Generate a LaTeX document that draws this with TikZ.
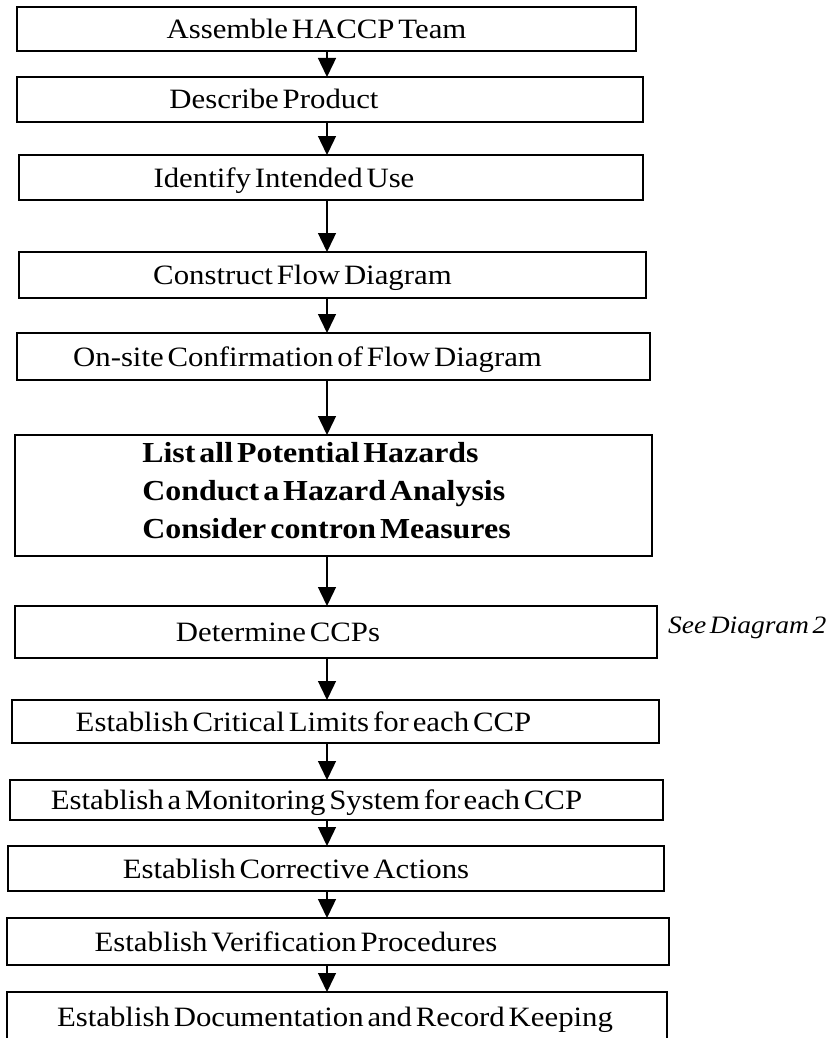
\documentclass[tikz,border=0pt]{standalone}
\usepackage{fontspec}
\setmainfont{Liberation Serif}[FakeStretch=1.1,WordSpace=0.5]
\usetikzlibrary{arrows.meta,positioning}

\begin{document}
\begin{tikzpicture}[
    x=1pt, y=-1pt,
    font=\fontsize{28}{33}\selectfont,
    box/.style={draw, line width=2.4pt, minimum width=#1, minimum height=45pt, inner sep=0pt, outer sep=0pt},
    stepbox/.style={box=#1, text height=20pt, text depth=1pt},
    textleft/.style={execute at end node={\hspace{#1}\hspace{#1}}},
    arr/.style={-{Triangle[length=19pt, width=18pt]}, line width=1.4pt},
    note/.style={font=\itshape\fontsize{25}{29}\selectfont, inner sep=0pt}
  ]
  \useasboundingbox (0,0) rectangle (828,1038);
  \coordinate (axis) at (327,0);
  \node[stepbox=619pt, minimum height=44pt, textleft=10pt] (team) at (326.5,29) {Assemble HACCP Team};
  \node[stepbox=626pt, below=26pt of team, xshift=3.5pt, textleft=56pt] (product) {Describe Product};
  \node[stepbox=624pt, below=33pt of product, xshift=1pt, textleft=47pt] (use) {Identify Intended Use};
  \node[stepbox=627pt, minimum height=46pt, below=52pt of use, xshift=1.5pt, textleft=30pt] (flow) {Construct Flow Diagram};
  \node[stepbox=633pt, minimum height=47pt, below=35pt of flow, xshift=1pt, textleft=26pt] (onsite) {On-site Confirmation of Flow Diagram};
  \node[box=637pt, minimum height=121pt, below=55pt of onsite, align=left, text depth=10pt, textleft=7pt, font=\bfseries\fontsize{29}{38}\selectfont] (hazards) {List all Potential Hazards\\Conduct a Hazard Analysis\\Consider contron Measures};
  \node[stepbox=642pt, minimum height=52pt, below=50pt of hazards, xshift=2.5pt, textleft=58pt] (ccp) {Determine CCPs};
  \node[note, right=11pt of ccp, yshift=4pt] (see) {See Diagram 2};
  \node[stepbox=647pt, minimum height=43pt, below=42pt of ccp, xshift=-0.5pt, textleft=32pt] (limits) {Establish Critical Limits for each CCP};
  \node[stepbox=653pt, minimum height=40pt, below=37pt of limits, xshift=1pt, textleft=20pt] (monitor) {Establish a Monitoring System for each CCP};
  \node[stepbox=656pt, below=26pt of monitor, xshift=-0.5pt, textleft=40pt] (correct) {Establish Corrective Actions};
  \node[stepbox=662pt, minimum height=47pt, below=27pt of correct, xshift=2pt, textleft=42pt] (verify) {Establish Verification Procedures};
  \node[stepbox=660pt, minimum height=50pt, below=27pt of verify, xshift=-1pt, textleft=2pt] (records) {Establish Documentation and Record Keeping};
  % arrows all on one vertical line
  \foreach \a/\b in {team/product, product/use, use/flow, flow/onsite, onsite/hazards, hazards/ccp, ccp/limits, limits/monitor, monitor/correct, correct/verify, verify/records}
    \draw[arr] (axis |- \a.south) -- (axis |- \b.north);
\end{tikzpicture}
\end{document}
